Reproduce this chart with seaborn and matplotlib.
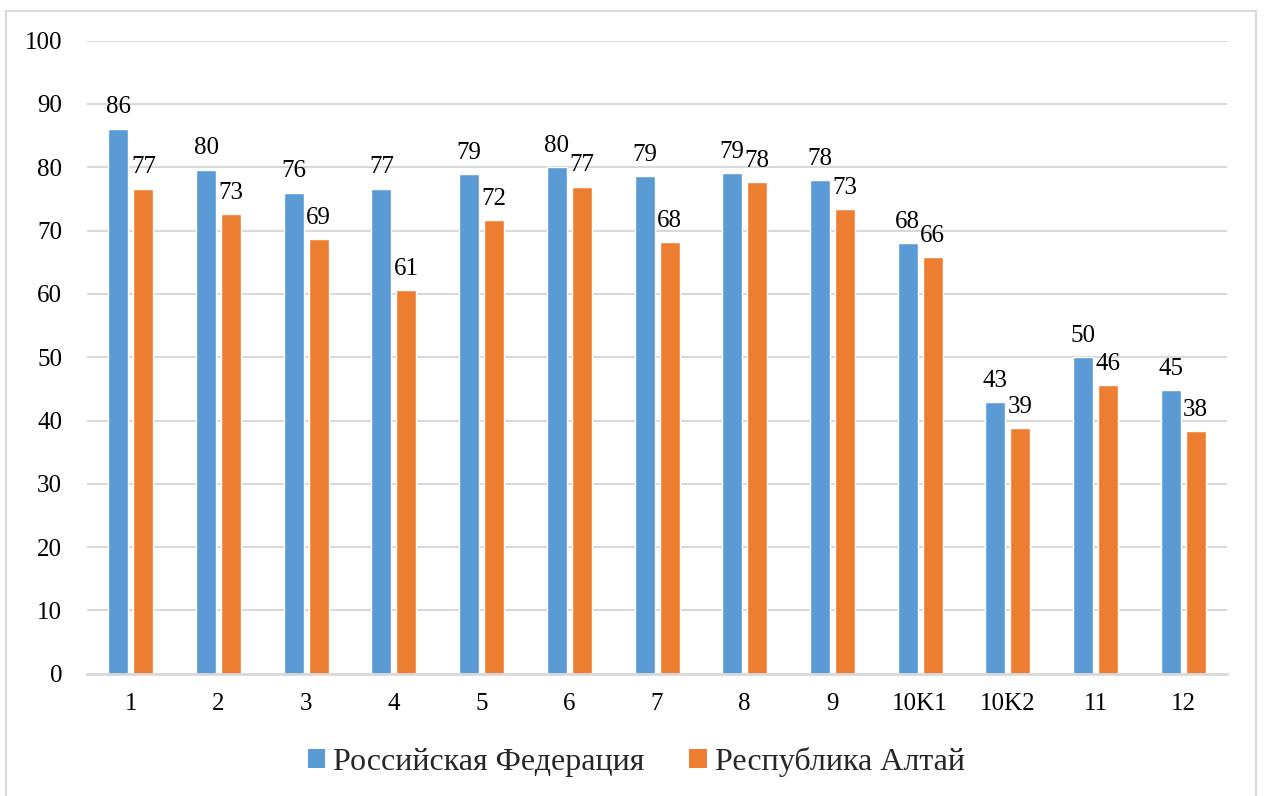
import matplotlib
matplotlib.use('Agg')
import matplotlib.pyplot as plt
from matplotlib.patches import Patch, Rectangle
import seaborn as sns
import pandas as pd

categories = ['1', '2', '3', '4', '5', '6', '7', '8', '9', '10K1', '10K2', '11', '12']
russia = [86.1, 79.6, 76.0, 76.6, 78.9, 80.0, 78.6, 79.1, 78.0, 68.0, 42.9, 50.0, 44.8]
altai = [76.6, 72.6, 68.6, 60.6, 71.6, 76.9, 68.2, 77.6, 73.4, 65.8, 38.8, 45.6, 38.3]
series = ['Российская Федерация', 'Республика Алтай']
colors = ['#5B9BD5', '#ED7D31']
y_ticks = list(range(0, 101, 10))

df = pd.DataFrame({
    'cat': categories * 2,
    'val': russia + altai,
    'region': [series[0]] * len(categories) + [series[1]] * len(categories),
})

sns.set_theme(style='white')
plt.rcParams['font.family'] = ['Liberation Serif', 'DejaVu Serif']

fig = plt.figure(figsize=(12.65, 7.96), dpi=100)
ax = fig.add_axes([0.0688, 0.1536, 0.9012, 0.7953])

sns.barplot(data=df, x='cat', y='val', hue='region', order=categories,
            hue_order=series, palette=dict(zip(series, colors)),
            saturation=1, width=0.57, gap=0.2, edgecolor='white',
            linewidth=1, legend=False, ax=ax)

for cont in ax.containers:
    ax.bar_label(cont, fmt='%.0f', padding=7.5, fontsize=18, color='black')

ax.set_ylim(0, 100)
ax.set_yticks(y_ticks)
ax.set_xlim(-0.5, len(categories) - 0.5)
ax.set_xlabel('')
ax.set_ylabel('')
ax.yaxis.grid(True, color='#d9d9d9', linewidth=1.5)
ax.set_axisbelow(True)
for side in ['left', 'right', 'top']:
    ax.spines[side].set_visible(False)
ax.spines['bottom'].set_color('#d9d9d9')
ax.spines['bottom'].set_linewidth(2)
ax.tick_params(axis='y', length=0, pad=18, labelsize=18, labelcolor='black')
ax.tick_params(axis='x', length=0, pad=14, labelsize=18, labelcolor='black')

handles = [Patch(facecolor=c, edgecolor='none') for c in colors]
fig.legend(handles, series, loc='center', bbox_to_anchor=(0.503, 1 - 762 / 796),
           ncol=2, frameon=False, fontsize=23, handlelength=0.55,
           handleheight=0.55, handletextpad=0.25, columnspacing=1.4)

fig.patches.append(Rectangle((6 / 1265, -0.02), 1250 / 1265, 1.02 - 11 / 796,
                             transform=fig.transFigure, fill=False,
                             edgecolor='#d9d9d9', linewidth=1.5))

fig.savefig('out.png', dpi=100)
